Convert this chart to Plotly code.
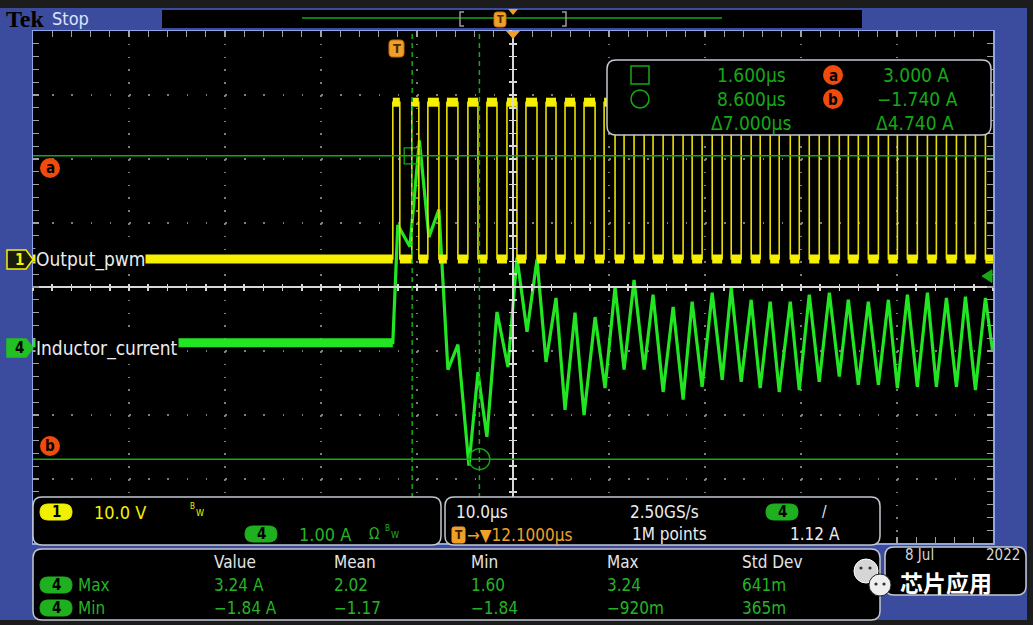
import plotly.graph_objects as go

time_range_us = [-37.9, 62.1]        # 10.0 us/div, trigger delay 12.1 us
ch4_range_a = [-3.05, 4.95]          # 1.00 A/div
ch1_range_v = [-44.375, 35.625]      # 10.0 V/div

pwm_rise_us = [-0.42, 1.56, 3.23, 5.21, 7.40, 9.38, 11.47, 13.45, 15.54, 17.52, 19.50,
               21.59, 23.67, 25.76, 27.74, 29.82, 31.80, 33.89, 35.87, 37.85, 39.83,
               41.92, 44.00, 46.09, 48.07, 50.16, 52.14, 54.22, 56.20, 58.29, 60.27]
pwm_fall_us = [0.31, 2.29, 4.38, 6.36, 8.45, 10.43, 12.51, 14.60, 16.58, 18.56, 20.65,
               22.73, 24.71, 26.69, 28.78, 30.76, 32.85, 34.83, 36.91, 38.89, 40.98,
               42.96, 45.05, 47.03, 49.11, 51.20, 53.18, 55.27, 57.25, 59.23, 61.31]
pwm_levels_v = [0.0, 24.5]           # low, high

il_t_us = [-37.9, -0.42, 0.10, 1.36, 2.35, 3.34, 4.38, 5.32, 6.36, 7.51, 8.45, 9.38,
           10.43, 11.57, 12.51, 13.56, 14.60, 15.54, 16.58, 17.52, 18.56, 19.50, 20.65,
           21.69, 22.73, 23.67, 24.71, 25.76, 26.69, 27.74, 28.78, 29.82, 30.76, 31.80,
           32.85, 33.89, 34.83, 35.87, 36.91, 37.85, 38.89, 39.83, 40.98, 41.92, 42.96,
           44.00, 45.05, 46.09, 47.03, 48.07, 49.11, 50.16, 51.20, 52.14, 53.18, 54.22,
           55.27, 56.20, 57.25, 58.29, 59.23, 60.27, 61.31, 62.04]
il_a = [0.08, 0.08, 1.92, 1.58, 3.24, 1.73, 2.16, -0.34, 0.05, -1.84, -0.38, -1.39,
        0.56, -0.30, 1.41, 0.25, 1.38, -0.22, 0.78, -0.97, 0.55, -1.05, 0.48,
        -0.63, 0.95, -0.34, 1.06, -0.34, 0.83, -0.69, 0.64, -0.81, 0.72, -0.61,
        0.86, -0.50, 0.94, -0.53, 0.75, -0.63, 0.72, -0.69, 0.72, -0.66, 0.83,
        -0.53, 0.86, -0.45, 0.75, -0.58, 0.72, -0.58, 0.75, -0.63, 0.83, -0.61,
        0.86, -0.61, 0.78, -0.61, 0.80, -0.66, 0.78, -0.03]

cursor_t_us = [1.6, 8.6]
cursor_i_a = [3.0, -1.74]
trigger_level_a = 1.12

cursor_rows = [["1.600µs", "3.000 A"], ["8.600µs", "−1.740 A"], ["Δ7.000µs", "Δ4.740 A"]]
meas_headers = ["Value", "Mean", "Min", "Max", "Std Dev"]
meas_max = ["3.24 A", "2.02", "1.60", "3.24", "641m"]
meas_min = ["−1.84 A", "−1.17", "−1.84", "−920m", "365m"]

# ---------------- style ----------------
W, H = 1033, 625
GL, GR, GT, GB = 33, 993, 31, 543
F = "DejaVu Sans Condensed, Liberation Sans Narrow, DejaVu Sans, sans-serif"
YEL = "#f6f000"
GRN = "#22e622"
CGRN = "#16a816"
MGRN = "#25b325"
ORG = "#f0a028"
RED = "#f04a0c"
BLUE = "#3b4c9e"
BORDER = "#c4c8d0"


def px(x):
    return (x - GL) / (GR - GL)


def py(y):
    return (GB - y) / (GB - GT)


def pt(x, y):
    return f"{px(x):.5f},{py(y):.5f}"


def rect(x0, y0, x1, y1, fill, line=None, lw=0, layer="below"):
    return dict(type="rect", xref="paper", yref="paper", x0=px(x0), x1=px(x1),
                y0=py(y1), y1=py(y0), fillcolor=fill, layer=layer,
                line=dict(width=lw, color=line or fill))


def rrect(x0, y0, x1, y1, r, fill="black", line=BORDER, lw=1.5, layer="above"):
    p = (f"M{pt(x0 + r, y0)} L{pt(x1 - r, y0)} Q{pt(x1, y0)} {pt(x1, y0 + r)} "
         f"L{pt(x1, y1 - r)} Q{pt(x1, y1)} {pt(x1 - r, y1)} L{pt(x0 + r, y1)} "
         f"Q{pt(x0, y1)} {pt(x0, y1 - r)} L{pt(x0, y0 + r)} Q{pt(x0, y0)} {pt(x0 + r, y0)} Z")
    return dict(type="path", xref="paper", yref="paper", path=p, fillcolor=fill,
                line=dict(color=line, width=lw), layer=layer)


def poly(points, fill, line=None, lw=0, layer="above"):
    p = "M" + " L".join(pt(x, y) for x, y in points) + " Z"
    return dict(type="path", xref="paper", yref="paper", path=p, fillcolor=fill,
                line=dict(color=line or fill, width=lw), layer=layer)


def seg(x0, y0, x1, y1, color, lw=1.5, layer="above", dash="solid"):
    return dict(type="line", xref="paper", yref="paper", x0=px(x0), y0=py(y0),
                x1=px(x1), y1=py(y1), line=dict(color=color, width=lw, dash=dash), layer=layer)


def circ(cx, cy, r, fill, line=None, lw=0, layer="above"):
    return dict(type="circle", xref="paper", yref="paper", x0=px(cx - r), x1=px(cx + r),
                y0=py(cy + r), y1=py(cy - r), fillcolor=fill, layer=layer,
                line=dict(color=line or fill, width=lw))


anns = []


def ann(x, y, text, color, size=17, xanchor="left", family=F, bg=None, bold=False):
    a = dict(x=px(x), y=py(y), xref="paper", yref="paper", text=text, showarrow=False,
             xanchor=xanchor, yanchor="middle", borderpad=0,
             font=dict(family=family, size=size, color=color,
                       weight="bold" if bold else "normal"))
    if bg:
        a["bgcolor"] = bg
    anns.append(a)


# ---------------- traces ----------------
t0, t1 = time_range_us
lo, hi = pwm_levels_v
edge_x, edge_y = [t0], [lo]
for r, f in zip(pwm_rise_us, pwm_fall_us):
    edge_x += [r, r, f, f]
    edge_y += [lo, hi, hi, lo]
edge_x.append(t1)
edge_y.append(lo)

band_x, band_y = [], []
prev = t0
for r, f in zip(pwm_rise_us, pwm_fall_us):
    band_x += [prev, r, None, r, f, None]
    band_y += [lo, lo, None, hi, hi, None]
    prev = f
band_x += [prev, t1]
band_y += [lo, lo]

fig = go.Figure()
fig.add_trace(go.Scatter(x=edge_x, y=edge_y, yaxis="y2", mode="lines",
                         line=dict(color="#e8e000", width=1.6), hoverinfo="skip"))
fig.add_trace(go.Scatter(x=band_x, y=band_y, yaxis="y2", mode="lines",
                         line=dict(color=YEL, width=9), hoverinfo="skip"))
fig.add_trace(go.Scatter(x=il_t_us[:2], y=il_a[:2], mode="lines",
                         line=dict(color=GRN, width=9), hoverinfo="skip"))
fig.add_trace(go.Scatter(x=il_t_us, y=il_a, mode="lines",
                         line=dict(color=GRN, width=3.2), hoverinfo="skip"))
fig.add_trace(go.Scatter(x=cursor_t_us[:1], y=cursor_i_a[:1], mode="markers",
                         marker=dict(symbol="square-open", size=16, color=CGRN,
                                     line=dict(width=1.3, color=CGRN)), hoverinfo="skip"))
fig.add_trace(go.Scatter(x=cursor_t_us[1:], y=cursor_i_a[1:], mode="markers",
                         marker=dict(symbol="circle-open", size=21, color=CGRN,
                                     line=dict(width=1.3, color=CGRN)), hoverinfo="skip"))
# empty traces so the centre cross-hair axes get drawn
for xa, ya in [("x2", "y"), ("x3", "y"), ("x", "y3"), ("x", "y4")]:
    fig.add_trace(go.Scatter(x=[], y=[], xaxis=xa, yaxis=ya, hoverinfo="skip"))

# ---------------- shapes ----------------
shapes = [
    rect(0, 8, 1027, 620, BLUE),
    rect(GL, GT, GR, GB, "black"),
    rect(162, 10, 862, 28, "black"),
    seg(302, 18, 722, 18, CGRN, 1.5, "below"),
]
# record-view brackets
shapes.append(dict(type="path", xref="paper", yref="paper",
                   path=f"M{pt(464, 12)} L{pt(460, 12)} L{pt(460, 26)} L{pt(464, 26)}",
                   line=dict(color="#9a9a9a", width=1.5), layer="below"))
shapes.append(dict(type="path", xref="paper", yref="paper",
                   path=f"M{pt(562, 12)} L{pt(566, 12)} L{pt(566, 26)} L{pt(562, 26)}",
                   line=dict(color="#9a9a9a", width=1.5), layer="below"))
shapes.append(rrect(494, 12, 506, 27, 3, fill=ORG, line="#c07010", lw=1, layer="below"))
shapes.append(poly([(508, 9), (518, 9), (513, 15)], ORG, layer="below"))

# cursors
for t in cursor_t_us:
    shapes.append(dict(type="line", xref="x", yref="paper", x0=t, x1=t, y0=0, y1=1,
                       line=dict(color=CGRN, width=1.5, dash="5px,4px"), layer="above"))
for a in cursor_i_a:
    shapes.append(dict(type="line", xref="paper", yref="y", x0=0, x1=1, y0=a, y1=a,
                       line=dict(color=CGRN, width=1.5), layer="above"))

# trigger markers
shapes.append(rrect(389, 40, 404, 57, 4, fill=ORG, line="#c07010", lw=1))
shapes.append(poly([(506, 31), (520, 31), (513, 39)], ORG))
shapes.append(dict(type="path", xref="paper", yref="y",
                   path=f"M{px(982):.5f},{trigger_level_a} L{px(992):.5f},{trigger_level_a + 0.1} "
                        f"L{px(992):.5f},{trigger_level_a - 0.1} Z",
                   fillcolor=CGRN, line=dict(color=CGRN, width=1), layer="above"))

# cursor letters a / b on the left
shapes.append(circ(50, 168, 10, RED))
shapes.append(circ(50, 446, 10, RED))

# channel tags
shapes.append(poly([(7, 250), (26, 250), (33, 259.5), (26, 269), (7, 269)],
                   "#1a1a10", line=YEL, lw=1.5))
shapes.append(poly([(7, 339), (26, 339), (33, 348), (26, 357), (7, 357)],
                   "#22c022", line="#22c022", lw=1.5))

# cursor readout box
shapes.append(rrect(607, 60, 991, 135, 9))
shapes.append(dict(type="rect", xref="paper", yref="paper", x0=px(631), x1=px(649),
                   y0=py(84), y1=py(66), line=dict(color=CGRN, width=1.5), layer="above"))
shapes.append(circ(640, 99, 9, "rgba(0,0,0,0)", line=CGRN, lw=1.5))
shapes.append(circ(833, 75, 10, RED))
shapes.append(circ(833, 99, 10, RED))

# bottom panels
shapes.append(rrect(33, 497, 441, 545, 9))
shapes.append(rrect(445, 497, 880, 545, 9))
shapes.append(rrect(33, 549, 880, 620, 9))
shapes.append(rrect(885, 547, 1026, 595, 9))

# pills
shapes.append(rrect(40, 504, 72, 520, 8, fill="#f0f000", line="#f0f000", lw=1))
shapes.append(rrect(245, 526, 277, 542, 8, fill="#1fb01f", line="#1fb01f", lw=1))
shapes.append(rrect(766, 504, 798, 520, 8, fill="#1fb01f", line="#1fb01f", lw=1))
shapes.append(rrect(40, 577, 72, 593, 8, fill="#1fb01f", line="#1fb01f", lw=1))
shapes.append(rrect(40, 600, 72, 616, 8, fill="#1fb01f", line="#1fb01f", lw=1))
shapes.append(rrect(452, 527, 465, 543, 2, fill=ORG, line=ORG, lw=1))

# wechat-like logo
shapes.append(circ(866, 571, 12, "#d6d6d6", line="#ffffff", lw=1))
shapes.append(circ(880, 585, 11, "#eeeeee", line="#222222", lw=1))
for cx, cy in [(861, 568), (870, 568), (876, 584), (884, 584)]:
    shapes.append(circ(cx, cy, 1.6, "#333333"))

# ---------------- annotations ----------------
ann(5, 19, "Tek", "#000000", 24, family="Liberation Serif, DejaVu Serif, serif", bold=True)
ann(51, 18, "Stop", "#dde3ff", 18)
ann(396.5, 48.5, "T", "#4a2a00", 13, "center", bold=True)
ann(500, 19.5, "T", "#4a2a00", 11, "center", bold=True)
ann(50, 168, "a", "#000000", 15, "center", bold=True)
ann(50, 446, "b", "#000000", 15, "center", bold=True)
ann(19, 259.5, "1", YEL, 15, "center", bold=True)
ann(19, 348, "4", "#000000", 15, "center", bold=True)
ann(35, 259.5, "Output_pwm", "#ececec", 19, bg="black")
ann(35, 348, "Inductor_current", "#ececec", 19, bg="black")

# cursor readout
RS = 19
ann(751, 75, cursor_rows[0][0], CGRN, RS, "center")
ann(916, 75, cursor_rows[0][1], CGRN, RS, "center")
ann(751, 99, cursor_rows[1][0], CGRN, RS, "center")
ann(917, 99, cursor_rows[1][1], CGRN, RS, "center")
ann(751, 123, cursor_rows[2][0], CGRN, RS, "center")
ann(915, 123, cursor_rows[2][1], CGRN, RS, "center")
ann(833, 75.5, "a", "#000000", 15, "center", bold=True)
ann(833, 99.5, "b", "#000000", 15, "center", bold=True)

# channel panel
ann(56, 512, "1", "#000000", 15, "center", bold=True)
ann(93, 512, "10.0 V", YEL, 18)
ann(189, 506, "B", YEL, 8)
ann(195, 513, "W", YEL, 9)
ann(261, 534, "4", "#000000", 15, "center", bold=True)
ann(298, 534, "1.00 A", MGRN, 18)
ann(368, 534, "Ω", MGRN, 15)
ann(384, 528, "B", MGRN, 8)
ann(390, 535, "W", MGRN, 9)

# horizontal / trigger panel
ann(455, 512, "10.0µs", "#ececec", 17)
ann(629, 512, "2.50GS/s", "#ececec", 17)
ann(782, 512, "4", "#000000", 15, "center", bold=True)
ann(824, 512, "/", "#ececec", 15, "center")
ann(458.5, 535, "T", "#3a2000", 12, "center", bold=True)
ann(466, 535, "→▼12.1000µs", ORG, 17)
ann(631, 534, "1M points", "#ececec", 17)
ann(841, 534, "1.12 A", "#ececec", 17, "right")

# measurements
col_x = [213, 333, 470, 606, 741]
for cx, h, vmax, vmin in zip(col_x, meas_headers, meas_max, meas_min):
    ann(cx, 562, h, "#e4e4e4", 17)
    ann(cx, 585, vmax, MGRN, 17)
    ann(cx, 608, vmin, MGRN, 17)
ann(56, 585, "4", "#000000", 15, "center", bold=True)
ann(56, 608, "4", "#000000", 15, "center", bold=True)
ann(77, 585, "Max", MGRN, 17)
ann(77, 608, "Min", MGRN, 17)

# date box
ann(904, 555, "8 Jul", "#d8d8d8", 15)
ann(1021, 555, "2022", "#d8d8d8", 15, "right")
ann(899, 582, "芯片应用", "#ffffff", 23, family="Noto Sans CJK SC", bold=True)

# ---------------- axes ----------------
grid_col = "#7c7c7c"
axis_common = dict(showticklabels=False, zeroline=False, fixedrange=True)
fig.update_layout(
    width=W, height=H, autosize=False,
    margin=dict(l=GL, r=W - GR, t=GT, b=H - GB, pad=0),
    paper_bgcolor="#1c1c1c", plot_bgcolor="#000000",
    showlegend=False, hovermode=False,
    xaxis=dict(range=time_range_us, showgrid=True, gridcolor=grid_col, gridwidth=1.5,
               griddash="1.5px,11.3px", tick0=2.1, dtick=10, ticks="inside", ticklen=6,
               tickcolor="#a0a0a0", tickwidth=1.2,
               minor=dict(dtick=2, tick0=2.1, ticks="inside", ticklen=3,
                          tickcolor="#a0a0a0", showgrid=False),
               showline=True, linecolor="#8fa6e6", linewidth=1.5, mirror="allticks",
               **axis_common),
    yaxis=dict(range=ch4_range_a, showgrid=True, gridcolor=grid_col, gridwidth=1.5,
               griddash="1.5px,17.7px", tick0=0.95, dtick=1, ticks="inside", ticklen=6,
               tickcolor="#a0a0a0", tickwidth=1.2,
               minor=dict(dtick=0.2, tick0=0.95, ticks="inside", ticklen=3,
                          tickcolor="#a0a0a0", showgrid=False),
               showline=True, linecolor="#8fa6e6", linewidth=1.5, mirror="allticks",
               **axis_common),
    yaxis2=dict(range=ch1_range_v, overlaying="y", visible=False, fixedrange=True),
    xaxis2=dict(range=time_range_us, overlaying="x", anchor="free", position=0.5,
                showline=True, linecolor="#d8d8d8", linewidth=2, showgrid=False,
                ticks="outside", ticklen=3, tick0=2.1, dtick=2, tickcolor="#d8d8d8",
                tickwidth=1.5, **axis_common),
    xaxis3=dict(range=time_range_us, overlaying="x", anchor="free", position=0.5,
                showline=False, showgrid=False,
                ticks="inside", ticklen=3, tick0=2.1, dtick=2, tickcolor="#d8d8d8",
                tickwidth=1.5, **axis_common),
    yaxis3=dict(range=ch4_range_a, overlaying="y", anchor="free", position=0.5,
                showline=True, linecolor="#d8d8d8", linewidth=2, showgrid=False,
                ticks="outside", ticklen=3, tick0=0.95, dtick=0.2, tickcolor="#d8d8d8",
                tickwidth=1.5, **axis_common),
    yaxis4=dict(range=ch4_range_a, overlaying="y", anchor="free", position=0.5,
                showline=False, showgrid=False,
                ticks="inside", ticklen=3, tick0=0.95, dtick=0.2, tickcolor="#d8d8d8",
                tickwidth=1.5, **axis_common),
    shapes=shapes, annotations=anns,
)

fig.write_html("out.html", config={"displayModeBar": False, "staticPlot": True},
               post_script="document.body.style.margin='0';"
                           "document.body.style.overflow='hidden';"
                           "document.body.style.background='#1c1c1c';")
